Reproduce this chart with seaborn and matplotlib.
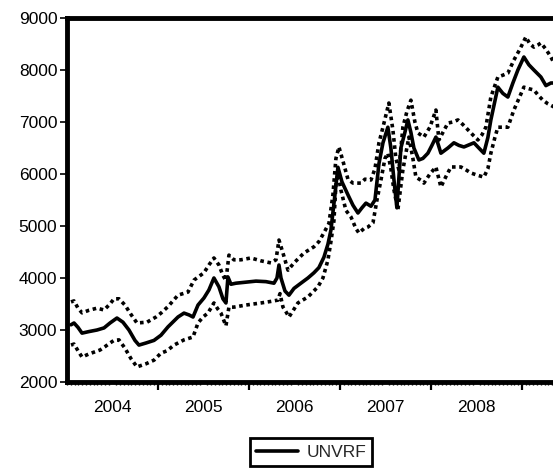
import matplotlib
matplotlib.use("Agg")
import matplotlib.pyplot as plt
import seaborn as sns
import numpy as np

# ---- data ----
main_year = [2004.044, 2004.077, 2004.121, 2004.165, 2004.242, 2004.330, 2004.407, 2004.473, 2004.549, 2004.615,
             2004.681, 2004.747, 2004.791, 2004.868, 2004.956, 2005.033, 2005.110, 2005.220, 2005.286, 2005.341,
             2005.385, 2005.440, 2005.505, 2005.560, 2005.615, 2005.670, 2005.714, 2005.747, 2005.769, 2005.802,
             2005.857, 2005.967, 2006.077, 2006.187, 2006.275, 2006.308, 2006.330, 2006.352, 2006.396, 2006.440,
             2006.495, 2006.571, 2006.648, 2006.714, 2006.769, 2006.824, 2006.868, 2006.901, 2006.945, 2006.978,
             2007.022, 2007.088, 2007.143, 2007.198, 2007.242, 2007.286, 2007.341, 2007.385, 2007.429, 2007.473,
             2007.527, 2007.560, 2007.593, 2007.626, 2007.670, 2007.714, 2007.747, 2007.780, 2007.813, 2007.868,
             2007.912, 2007.967, 2008.011, 2008.055, 2008.110, 2008.187, 2008.253, 2008.308, 2008.363, 2008.418,
             2008.473, 2008.527, 2008.582, 2008.626, 2008.659, 2008.703, 2008.736, 2008.791, 2008.846, 2008.901,
             2008.956, 2009.022, 2009.077, 2009.132, 2009.209, 2009.264, 2009.319, 2009.352]
main_val = [3100, 3135, 3050, 2940, 2970, 3000, 3040, 3135, 3230, 3150,
            3000, 2800, 2710, 2750, 2800, 2900, 3060, 3250, 3325, 3290,
            3250, 3480, 3615, 3770, 4000, 3830, 3600, 3520, 4020, 3880,
            3900, 3920, 3940, 3930, 3900, 4000, 4250, 4000, 3750, 3670,
            3800, 3900, 4000, 4100, 4200, 4400, 4650, 4920, 5600, 6130,
            5850, 5600, 5400, 5250, 5350, 5440, 5380, 5500, 6200, 6600,
            6900, 6500, 5900, 5350, 6500, 6800, 7040, 6800, 6500, 6270,
            6300, 6400, 6550, 6710, 6400, 6500, 6600, 6550, 6520, 6560,
            6600, 6500, 6400, 6700, 7040, 7400, 7670, 7550, 7480, 7750,
            8000, 8250, 8100, 8000, 7865, 7700, 7750, 7750]

upper_year = [2004.044, 2004.077, 2004.121, 2004.165, 2004.242, 2004.330, 2004.407, 2004.473, 2004.516, 2004.571,
              2004.637, 2004.703, 2004.769, 2004.879, 2004.978, 2005.033, 2005.110, 2005.220, 2005.330, 2005.396,
              2005.505, 2005.560, 2005.615, 2005.670, 2005.714, 2005.747, 2005.780, 2005.835, 2005.912, 2006.022,
              2006.132, 2006.242, 2006.297, 2006.330, 2006.374, 2006.429, 2006.495, 2006.604, 2006.714, 2006.769,
              2006.824, 2006.879, 2006.923, 2006.956, 2006.989, 2007.033, 2007.088, 2007.143, 2007.231, 2007.275,
              2007.341, 2007.385, 2007.429, 2007.473, 2007.538, 2007.582, 2007.615, 2007.648, 2007.692, 2007.736,
              2007.780, 2007.824, 2007.857, 2007.923, 2007.989, 2008.055, 2008.088, 2008.132, 2008.187, 2008.242,
              2008.297, 2008.352, 2008.407, 2008.462, 2008.516, 2008.560, 2008.604, 2008.659, 2008.703, 2008.736,
              2008.791, 2008.846, 2008.912, 2008.978, 2009.044, 2009.088, 2009.132, 2009.176, 2009.209, 2009.264,
              2009.319, 2009.352]
upper_val = [3540, 3560, 3420, 3330, 3380, 3420, 3385, 3500, 3600, 3600,
             3480, 3300, 3135, 3150, 3250, 3325, 3450, 3670, 3730, 3960,
             4100, 4250, 4385, 4250, 4050, 3950, 4440, 4350, 4350, 4385,
             4330, 4290, 4350, 4730, 4480, 4150, 4290, 4480, 4600, 4700,
             4870, 5050, 5600, 6300, 6520, 6250, 5900, 5825, 5825, 5900,
             5885, 6100, 6600, 6900, 7365, 6850, 6300, 6080, 6900, 7200,
             7420, 7000, 6790, 6710, 6900, 7230, 6655, 6800, 6980, 7000,
             7040, 6950, 6850, 6750, 6655, 6750, 6900, 7480, 7700, 7865,
             7900, 7940, 8190, 8400, 8635, 8500, 8440, 8480, 8520, 8400,
             8250, 8135]

lower_year = [2004.044, 2004.077, 2004.121, 2004.165, 2004.242, 2004.363, 2004.418, 2004.473, 2004.516, 2004.571,
              2004.637, 2004.703, 2004.769, 2004.868, 2004.956, 2005.033, 2005.099, 2005.176, 2005.286, 2005.385,
              2005.440, 2005.495, 2005.549, 2005.615, 2005.659, 2005.692, 2005.747, 2005.780, 2005.835, 2005.967,
              2006.132, 2006.242, 2006.319, 2006.341, 2006.374, 2006.407, 2006.440, 2006.495, 2006.538, 2006.648,
              2006.758, 2006.813, 2006.868, 2006.901, 2006.934, 2006.956, 2006.978, 2007.011, 2007.066, 2007.121,
              2007.176, 2007.209, 2007.264, 2007.308, 2007.363, 2007.407, 2007.451, 2007.495, 2007.527, 2007.560,
              2007.593, 2007.637, 2007.692, 2007.725, 2007.758, 2007.802, 2007.835, 2007.890, 2007.923, 2007.989,
              2008.055, 2008.110, 2008.165, 2008.220, 2008.275, 2008.330, 2008.385, 2008.440, 2008.505, 2008.582,
              2008.626, 2008.659, 2008.703, 2008.736, 2008.791, 2008.846, 2008.912, 2008.967, 2009.022, 2009.077,
              2009.132, 2009.187, 2009.231, 2009.286, 2009.352]
lower_val = [2710, 2730, 2600, 2480, 2540, 2615, 2680, 2750, 2800, 2810,
             2650, 2450, 2290, 2350, 2420, 2555, 2600, 2710, 2810, 2865,
             3135, 3250, 3325, 3520, 3400, 3325, 3080, 3440, 3440, 3480,
             3520, 3550, 3575, 3700, 3440, 3350, 3250, 3400, 3520, 3635,
             3830, 4000, 4345, 4700, 5100, 5800, 6000, 5690, 5300, 5175,
             4950, 4865, 4950, 4980, 5060, 5500, 5885, 6300, 6400, 6100,
             5700, 5310, 6080, 6400, 6710, 6300, 5940, 5880, 5825, 6000,
             6135, 5750, 5950, 6135, 6135, 6135, 6080, 6020, 5980, 5940,
             6100, 6400, 6700, 6900, 6900, 6900, 7230, 7450, 7670, 7640,
             7615, 7500, 7420, 7350, 7290]

year_labels = ["2004", "2005", "2006", "2007", "2008"]
y_ticks = [2000, 3000, 4000, 5000, 6000, 7000, 8000, 9000]
legend_label = "UNVRF"

# ---- style ----
sns.set_style("ticks")
plt.rcParams["font.family"] = ["Liberation Sans", "DejaVu Sans"]

W, H = 553, 472
fig = plt.figure(figsize=(W / 100, H / 100), dpi=100)
ax = fig.add_axes([67 / W, 1 - 382 / H, 489 / W, (382 - 18) / H])

dot = (0, (1.0, 1.0))
sns.lineplot(x=upper_year, y=upper_val, ax=ax, color="black", linewidth=2.6,
             linestyle=dot, zorder=2, legend=False)
sns.lineplot(x=lower_year, y=lower_val, ax=ax, color="black", linewidth=2.6,
             linestyle=dot, zorder=2, legend=False)
sns.lineplot(x=main_year, y=main_val, ax=ax, color="black", linewidth=2.6,
             zorder=3, legend=False)

ax.set_xlim(2004.0, 2009.375)
ax.set_ylim(2000, 9000)
ax.set_xlabel("")
ax.set_ylabel("")

# spines
for s in ["left", "top", "bottom"]:
    ax.spines[s].set_linewidth(3.5)
    ax.spines[s].set_color("black")
ax.spines["right"].set_visible(False)

# y ticks
ax.set_yticks(y_ticks)
ax.tick_params(axis="y", direction="out", length=5, width=1.2, pad=2,
               labelsize=12.5, colors="black")

# x labels at mid-years, no tick marks
mid = [int(l) + 0.5 for l in year_labels]
ax.set_xticks(mid)
ax.set_xticklabels(year_labels)
ax.tick_params(axis="x", which="major", length=0, pad=13, labelsize=12.5, colors="black")

# half-month minor ticks
halfmonths = np.arange(2004.0, 2009.375, 1 / 24)
ax.set_xticks(halfmonths, minor=True)
ax.tick_params(axis="x", which="minor", direction="out", length=2.2, width=1.0, color="black")

# year boundary ticks on a secondary axis
sec = ax.secondary_xaxis("bottom")
sec.set_xticks([int(l) + 1 for l in year_labels])
sec.set_xticklabels([])
sec.tick_params(axis="x", direction="out", length=5.5, width=1.6, color="black")
sec.spines["bottom"].set_visible(False)

# legend
h = plt.Line2D([], [], color="black", linewidth=2.6)
leg = fig.legend([h], [legend_label], loc="center",
                 bbox_to_anchor=(311 / W, 1 - 452 / H), frameon=True,
                 fancybox=False, edgecolor="black", framealpha=1.0, fontsize=12.5,
                 handlelength=2.4, handletextpad=0.5, borderpad=0.35,
                 borderaxespad=0)
leg.get_frame().set_linewidth(2.0)

fig.savefig("out.png", dpi=100)
